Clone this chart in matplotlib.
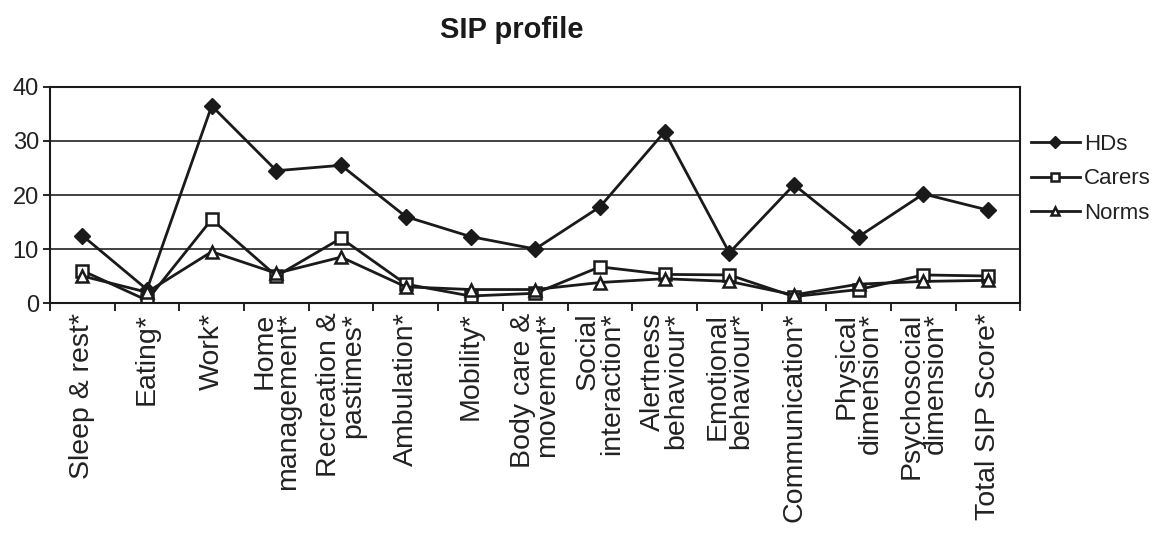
import matplotlib
matplotlib.use("Agg")
import matplotlib.pyplot as plt
from matplotlib.ticker import FixedLocator, NullFormatter
import numpy as np

plt.rcParams['font.family'] = ['Liberation Sans', 'DejaVu Sans']

categories = ["Sleep & rest*", "Eating*", "Work*", "Home\nmanagement*",
              "Recreation &\npastimes*", "Ambulation*", "Mobility*",
              "Body care &\nmovement*", "Social\ninteraction*",
              "Alertness\nbehaviour*", "Emotional\nbehaviour*",
              "Communication*", "Physical\ndimension*",
              "Psychosocial\ndimension*", "Total SIP Score*"]
hds = [12.5, 2.5, 36.5, 24.5, 25.5, 16, 12.3, 10, 17.8, 31.7, 9.3, 21.9, 12.3, 20.2, 17.2]
carers = [6, 0.5, 15.5, 5, 12, 3.5, 1.3, 1.8, 6.7, 5.3, 5.2, 1.2, 2.5, 5.2, 5]
norms = [5, 2, 9.5, 5.5, 8.5, 3, 2.5, 2.5, 3.8, 4.5, 4, 1.5, 3.5, 4, 4.2]
yticks = [0, 10, 20, 30, 40]

fig = plt.figure(figsize=(11.7, 5.35), dpi=100)
ax = fig.add_axes([0.0427, 0.4336, 0.8295, 0.4038])

x = np.arange(len(categories))
ax.plot(x, hds, color='#1a1a1a', lw=2, marker='D', ms=8, mfc='#1a1a1a', mec='#1a1a1a', label='HDs')
ax.plot(x, carers, color='#1a1a1a', lw=2, marker='s', ms=8, mfc='white', mec='#1a1a1a', mew=1.8, label='Carers')
ax.plot(x, norms, color='#1a1a1a', lw=2, marker='^', ms=8, mfc='white', mec='#1a1a1a', mew=1.8, label='Norms')

ax.set_xlim(-0.5, len(categories) - 0.5)
ax.set_ylim(0, 40)
ax.set_yticks(yticks)
ax.set_yticklabels([str(v) for v in yticks], fontsize=17, color='#222222')
ax.tick_params(axis='y', pad=3)
for v in yticks[1:]:
    ax.axhline(v, color='#333333', lw=1.3, zorder=0)

ax.set_xticks(x)
ax.set_xticklabels(categories, rotation=90, fontsize=20.5, multialignment='right',
                   va='top', ha='center', linespacing=0.9, color='#222222')
ax.tick_params(axis='x', which='major', length=0, pad=7)
ax.xaxis.set_minor_locator(FixedLocator(np.arange(-0.5, len(categories), 1.0)))
ax.xaxis.set_minor_formatter(NullFormatter())
ax.tick_params(axis='x', which='minor', length=6, width=1.2, direction='out')
ax.tick_params(axis='y', length=5, width=1.2, direction='out')

for s in ax.spines.values():
    s.set_linewidth(1.5)
    s.set_color('#1a1a1a')

fig.text(0.4375, 0.929, "SIP profile", ha='center', va='baseline', fontsize=21,
         fontweight='bold', color='#1a1a1a')

leg = ax.legend(loc='upper left', bbox_to_anchor=(0.99, 0.875), frameon=False, fontsize=16,
                handlelength=2.2, handletextpad=0.2, labelspacing=0.6, borderaxespad=0.5,
                markerscale=0.75)
for t in leg.get_texts():
    t.set_color('#222222')

fig.savefig("out.png", dpi=100, facecolor='white')
